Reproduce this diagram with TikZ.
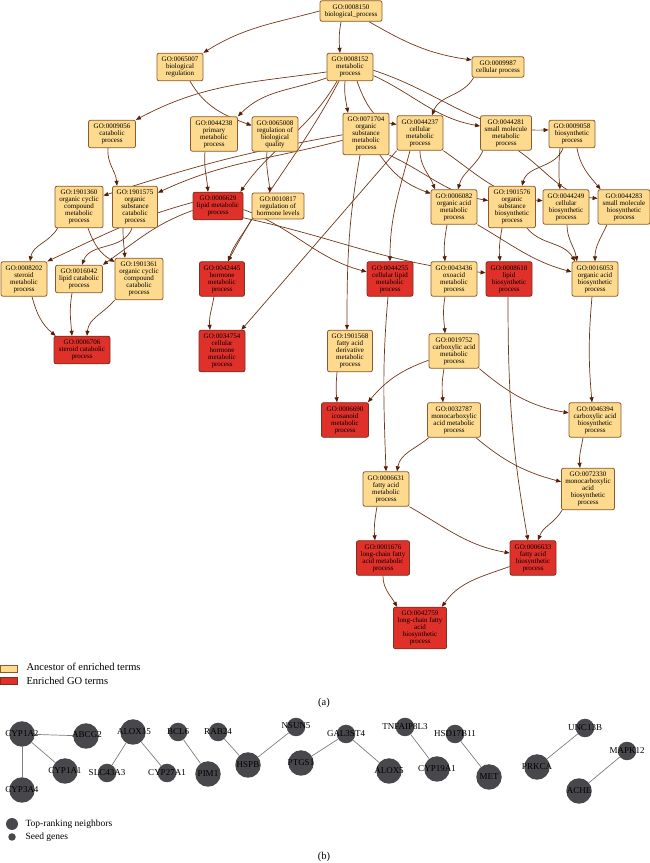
\documentclass[tikz,border=0pt]{standalone}
\usepackage{fontspec}
\setmainfont{Liberation Serif}
\usetikzlibrary{arrows.meta}
\pgfdeclarelayer{bg}
\pgfsetlayers{bg,main}
\definecolor{ancfill}{RGB}{253,218,142}
\definecolor{ancdraw}{RGB}{140,90,45}
\definecolor{enrfill}{RGB}{224,48,42}
\definecolor{enrdraw}{RGB}{120,50,30}
\definecolor{edgecol}{RGB}{112,55,25}
\definecolor{arrowcol}{RGB}{90,30,6}
\definecolor{netfill}{RGB}{72,72,76}
\definecolor{netedge}{RGB}{125,125,125}
\begin{document}
\begin{tikzpicture}[x=1pt,y=1pt,
  goterm/.style={rectangle, rounded corners=2pt, draw=ancdraw, line width=0.8pt, fill=ancfill, align=center, inner xsep=1pt, inner ysep=3.7pt, font=\fontsize{7}{7}\selectfont, minimum width=46pt},
  enr/.style={goterm, fill=enrfill, draw=enrdraw},
  gedge/.style={draw=edgecol, line width=0.7pt, -{Triangle[length=5pt,width=4pt,color=arrowcol]}},
  bignode/.style={circle, fill=netfill, minimum size=25.5pt, inner sep=0pt},
  smallnode/.style={circle, fill=netfill, minimum size=18.5pt, inner sep=0pt},
  nlab/.style={inner sep=0pt, font=\fontsize{9}{10}\selectfont, text=black},
  nedge/.style={draw=netedge, line width=0.7pt},
  legtext/.style={anchor=west, font=\fontsize{10.5}{12}\selectfont},
  legtextb/.style={anchor=west, font=\fontsize{9.5}{11}\selectfont}
]
\useasboundingbox (0,0) rectangle (650,863);

% ---------- GO nodes ----------
\node[goterm, minimum width=62pt] (n8150) at (351,852) {GO:0008150\\biological\_process};
\node[goterm] (n65007) at (180,796) {GO:0065007\\biological\\regulation};
\node[goterm] (n8152) at (350,796) {GO:0008152\\metabolic\\process};
\node[goterm, minimum width=52pt] (n9987) at (498,796) {GO:0009987\\cellular process};
\node[goterm, minimum width=47pt] (n9056) at (112,729) {GO:0009056\\catabolic\\process};
\node[goterm, minimum width=47pt] (n44238) at (214,729) {GO:0044238\\primary\\metabolic\\process};
\node[goterm] (n65008) at (275,729) {GO:0065008\\regulation of\\biological\\quality};
\node[goterm] (n71704) at (366,729) {GO:0071704\\organic\\substance\\metabolic\\process};
\node[goterm] (n44237) at (420,730) {GO:0044237\\cellular\\metabolic\\process};
\node[goterm, minimum width=51pt] (n44281) at (506,730) {GO:0044281\\small molecule\\metabolic\\process};
\node[goterm] (n9058) at (572,729) {GO:0009058\\biosynthetic\\process};

\node[goterm, minimum width=48pt] (n1901360) at (79,656) {GO:1901360\\organic cyclic\\compound\\metabolic\\process};
\node[goterm, minimum width=45pt] (n1901575) at (135,656) {GO:1901575\\organic\\substance\\catabolic\\process};
\node[enr, minimum width=50pt] (n6629) at (218,657) {GO:0006629\\lipid metabolic\\process};
\node[goterm, minimum width=52pt] (n10817) at (278,657) {GO:0010817\\regulation of\\hormone levels};
\node[goterm] (n6082) at (454,656) {GO:0006082\\organic acid\\metabolic\\process};
\node[goterm, minimum width=47pt] (n1901576) at (512,656) {GO:1901576\\organic\\substance\\biosynthetic\\process};
\node[goterm] (n44249) at (566,656) {GO:0044249\\cellular\\biosynthetic\\process};
\node[goterm, minimum width=52pt] (n44283) at (624,656) {GO:0044283\\small molecule\\biosynthetic\\process};

\node[goterm] (n8202) at (24,584) {GO:0008202\\steroid\\metabolic\\process};
\node[goterm, minimum width=47pt] (n16042) at (79,584) {GO:0016042\\lipid catabolic\\process};
\node[goterm, minimum width=48pt] (n1901361) at (139,584) {GO:1901361\\organic cyclic\\compound\\catabolic\\process};
\node[enr, minimum width=45pt] (n42445) at (222,584) {GO:0042445\\hormone\\metabolic\\process};
\node[enr] (n44255) at (390,584) {GO:0044255\\cellular lipid\\metabolic\\process};
\node[goterm] (n43436) at (454,584) {GO:0043436\\oxoacid\\metabolic\\process};
\node[enr] (n8610) at (509,584) {GO:0008610\\lipid\\biosynthetic\\process};
\node[goterm] (n16053) at (595,584) {GO:0016053\\organic acid\\biosynthetic\\process};

\node[enr, minimum width=56pt] (n6706) at (82,513) {GO:0006706\\steroid catabolic\\process};
\node[enr] (n34754) at (222,512) {GO:0034754\\cellular\\hormone\\metabolic\\process};
\node[goterm, minimum width=45pt] (n1901568) at (350,512) {GO:1901568\\fatty acid\\derivative\\metabolic\\process};
\node[goterm, minimum width=50pt] (n19752) at (454,512) {GO:0019752\\carboxylic acid\\metabolic\\process};

\node[enr, minimum width=47pt] (n6690) at (345,443) {GO:0006690\\icosanoid\\metabolic\\process};
\node[goterm, minimum width=53pt] (n32787) at (454,443) {GO:0032787\\monocarboxylic\\acid metabolic\\process};
\node[goterm, minimum width=52pt] (n46394) at (595,443) {GO:0046394\\carboxylic acid\\biosynthetic\\process};

\node[goterm] (n6631) at (386,374) {GO:0006631\\fatty acid\\metabolic\\process};
\node[goterm, minimum width=53pt] (n72330) at (588,374) {GO:0072330\\monocarboxylic\\acid\\biosynthetic\\process};

\node[enr, minimum width=53pt] (n1676) at (383,305) {GO:0001676\\long-chain fatty\\acid metabolic\\process};
\node[enr] (n6633) at (533,305) {GO:0006633\\fatty acid\\biosynthetic\\process};

\node[enr, minimum width=53pt] (n42759) at (420,235) {GO:0042759\\long-chain fatty\\acid\\biosynthetic\\process};

% ---------- GO edges ----------
\begin{pgfonlayer}{bg}
\draw[gedge] (n8150.west) to[out=195,in=32] (n65007.north east);
\draw[gedge] ([xshift=-10pt]n8150.south) to[out=-100,in=95] ([xshift=-10pt]n8152.north);
\draw[gedge] ([xshift=18pt]n8150.south) to[out=-30,in=172] (n9987.165);
\draw[gedge] ([xshift=10pt]n65007.south) to[out=-60,in=160] (n65008.160);
\draw[gedge] (n8152.192) to[out=188,in=28] (n9056.north east);
\draw[gedge] (n8152.205) to[out=200,in=45] (n44238.north east);
\draw[gedge] ([xshift=-5pt]n8152.south) to[out=-95,in=100] ([xshift=-18pt]n71704.north);
\draw[gedge] ([xshift=7pt]n8152.south) to[out=-70,in=170] (n44237.160);
\draw[gedge] (n8152.-20) to[out=-25,in=170] (n44281.165);
\draw[gedge] (n8152.-8) to[out=-18,in=182] (n9058.170);
\draw[gedge] ([xshift=2pt]n9987.south west) to[out=-120,in=70] ([xshift=12pt]n44237.north);

\draw[gedge] ([xshift=-4pt]n9056.south) to[out=-95,in=95] ([xshift=-18pt]n1901575.north);
\draw[gedge] (n71704.182) to[out=190,in=18] (n1901360.25);
\draw[gedge] (n71704.195) to[out=195,in=25] (n1901575.32);
\draw[gedge] ([xshift=-9pt]n44238.south) to[out=-95,in=95] ([xshift=-10pt]n6629.north);
\draw[gedge] ([xshift=-13pt]n8152.south) to[out=-120,in=55] ([xshift=-3pt]n6629.north east);
\draw[gedge] ([xshift=-11pt]n8152.south) to[out=-118,in=62] ([xshift=6pt]n42445.north);
\draw[gedge] ([xshift=-8pt]n65008.south) to[out=-95,in=95] ([xshift=-8pt]n10817.north);
\draw[gedge] (n44237.south) to[out=-90,in=110] ([xshift=-19pt]n6082.north);
\draw[gedge] ([xshift=-23pt]n44281.south) to[out=-115,in=75] ([xshift=4pt]n6082.north);
\draw[gedge] ([xshift=14pt]n71704.south) to[out=-55,in=160] (n6082.150);
\draw[gedge] (n71704.south east) to[out=-25,in=170] (n1901576.165);
\draw[gedge] ([xshift=-9pt]n9058.south) to[out=-110,in=75] ([xshift=10pt]n1901576.north);
\draw[gedge] ([xshift=-12pt]n9058.south) to[out=-95,in=95] ([xshift=-6pt]n44249.north);
\draw[gedge] ([xshift=5pt]n9058.south) to[out=-80,in=130] ([xshift=3pt]n44283.north west);
\draw[gedge] (n44237.south east) to[out=-35,in=175] (n44249.165);
\draw[gedge] (n44281.-55) to[out=-35,in=175] (n44283.162);

\draw[gedge] ([xshift=3pt]n1901360.south west) to[out=-120,in=80] ([xshift=6pt]n8202.north);
\draw[gedge] (n6629.172) to[out=195,in=25] (n8202.north east);
\draw[gedge] (n6629.190) to[out=200,in=35] (n16042.north east);
\draw[gedge] ([xshift=-3pt]n1901575.south) to[out=-110,in=70] ([xshift=3pt]n16042.north);
\draw[gedge] ([xshift=9pt]n1901360.south) to[out=-70,in=150] (n1901361.145);
\draw[gedge] ([xshift=-12pt]n1901575.south) to[out=-90,in=95] ([xshift=-14pt]n1901361.north);
\draw[gedge] (n10817.south west) to[out=-120,in=70] ([xshift=6pt]n42445.north);
\draw[gedge] (n6629.-8) to[out=-20,in=165] (n44255.163);
\draw[gedge] (n6629.-25) to[out=-12,in=175] (n8610.165);
\draw[gedge] ([xshift=-10pt]n44237.south) to[out=-105,in=90] (n44255.north);
\draw[gedge] ([xshift=-7pt]n6082.south) to[out=-100,in=95] ([xshift=-9pt]n43436.north);
\draw[gedge] ([xshift=-10pt]n1901576.south) to[out=-100,in=95] ([xshift=-9pt]n8610.north);
\draw[gedge] (n6082.south east) to[out=-30,in=165] (n16053.163);
\draw[gedge] ([xshift=15pt]n1901576.south) to[out=-50,in=120] ([xshift=-20pt]n16053.north);
\draw[gedge] ([xshift=1pt]n44249.south) to[out=-90,in=100] ([xshift=-18pt]n16053.north);
\draw[gedge] ([xshift=-17pt]n44283.south) to[out=-115,in=90] (n16053.north);
\draw[gedge] ([xshift=-6pt]n71704.south) to[out=-100,in=90] ([xshift=-3pt]n1901568.north);
\draw[gedge] (n44237.south west) -- ([xshift=-4pt]n34754.north east);
\draw[gedge] ([xshift=-8pt]n42445.south) to[out=-100,in=95] ([xshift=-12pt]n34754.north);
\draw[gedge] ([xshift=8pt]n8202.south) to[out=-75,in=140] ([xshift=2pt]n6706.north west);
\draw[gedge] ([xshift=-7pt]n16042.south) to[out=-100,in=95] ([xshift=-10pt]n6706.north);
\draw[gedge] (n1901361.south west) to[out=-130,in=85] ([xshift=5pt]n6706.north);
\draw[gedge] ([xshift=-9pt]n43436.south) to[out=-100,in=95] ([xshift=-9pt]n19752.north);
\draw[gedge] ([xshift=-2pt]n44255.south) to[out=-95,in=92] (n6631.north);
\draw[gedge] ([xshift=-1pt]n8610.south) to[out=-90,in=100] ([xshift=-5pt]n6633.north);
\draw[gedge] ([xshift=-3pt]n16053.south) to[out=-95,in=95] ([xshift=-3pt]n46394.north);
\draw[gedge] ([xshift=-13pt]n1901568.south) to[out=-95,in=95] ([xshift=-8pt]n6690.north);
\draw[gedge] (n19752.200) to[out=200,in=50] ([xshift=-1pt]n6690.north east);
\draw[gedge] ([xshift=-10pt]n19752.south) to[out=-100,in=95] ([xshift=-11pt]n32787.north);
\draw[gedge] (n19752.south east) to[out=-40,in=170] (n46394.165);
\draw[gedge] (n32787.215) to[out=-140,in=80] ([xshift=11pt]n6631.north);
\draw[gedge] ([xshift=-5pt]n32787.south east) to[out=-40,in=165] (n72330.165);
\draw[gedge] ([xshift=-12pt]n46394.south) to[out=-100,in=95] ([xshift=-8pt]n72330.north);
\draw[gedge] ([xshift=-9pt]n6631.south) to[out=-100,in=95] ([xshift=-8pt]n1676.north);
\draw[gedge] (n6631.south east) to[out=-30,in=170] (n6633.168);
\draw[gedge] ([xshift=1pt]n72330.south west) to[out=-120,in=70] ([xshift=5pt]n6633.north);
\draw[gedge] (n1676.south) to[out=-90,in=120] ([xshift=4pt]n42759.north west);
\draw[gedge] (n6633.200) to[out=200,in=55] ([xshift=-5pt]n42759.north east);
\end{pgfonlayer}

% ---------- legend (a) ----------
\node[rectangle, fill=ancfill, draw=ancdraw, line width=0.8pt, minimum width=17pt, minimum height=7pt, inner sep=0pt] (legA) at (9,194.5) {};
\node[rectangle, fill=enrfill, draw=enrdraw, line width=0.8pt, minimum width=17pt, minimum height=7pt, inner sep=0pt] (legE) at (9,182) {};
\node[legtext] (legAt) at (23,196) {Ancestor of enriched terms};
\node[legtext] (legEt) at (23,182) {Enriched GO terms};
\node[font=\fontsize{10.5}{12}\selectfont] (capa) at (324,160) {(a)};

% ---------- network (b) ----------
\node[bignode] (cyp1a2) at (22,129) {};
\node[bignode] (abcg2) at (86,127) {};
\node[bignode] (cyp1a1) at (65,92) {};
\node[bignode] (cyp3a4) at (22,73) {};
\node[bignode] (alox15) at (133,131) {};
\node[smallnode] (slc43a3) at (107,90) {};
\node[smallnode] (cyp27a1) at (167,90) {};
\node[smallnode] (bcl6) at (178,131) {};
\node[bignode] (pim1) at (208,89) {};
\node[smallnode] (rab24) at (218,131) {};
\node[bignode] (hspb) at (248,98) {};
\node[smallnode] (nsun5) at (296,136) {};
\node[bignode] (ptgs1) at (301,100) {};
\node[smallnode] (gal3st4) at (346,129) {};
\node[bignode] (alox5) at (389,92) {};
\node[smallnode] (tnfaip8l3) at (405,136) {};
\node[bignode] (cyp19a1) at (437,94) {};
\node[smallnode] (hsd17b11) at (455,129) {};
\node[bignode] (met) at (489,86) {};
\node[smallnode] (unc13b) at (585,135) {};
\node[bignode] (prkca) at (537,96) {};
\node[smallnode] (mapk12) at (627,112) {};
\node[bignode] (ache) at (579,72) {};

\begin{pgfonlayer}{bg}
\draw[nedge] (cyp1a2) -- (abcg2);
\draw[nedge] (cyp1a2) -- (cyp1a1);
\draw[nedge] (cyp1a2) -- (cyp3a4);
\draw[nedge] (alox15) -- (slc43a3);
\draw[nedge] (alox15) -- (cyp27a1);
\draw[nedge] (bcl6) -- (pim1);
\draw[nedge] (rab24) -- (hspb);
\draw[nedge] (hspb) -- (nsun5);
\draw[nedge] (ptgs1) -- (gal3st4);
\draw[nedge] (gal3st4) -- (alox5);
\draw[nedge] (tnfaip8l3) -- (cyp19a1);
\draw[nedge] (hsd17b11) -- (met);
\draw[nedge] (prkca) -- (unc13b);
\draw[nedge] (mapk12) -- (ache);
\end{pgfonlayer}

\node[nlab] (t-cyp1a2) at (cyp1a2) {CYP1A2};
\node[nlab] (t-abcg2) at (87,128) {ABCG2};
\node[nlab] (t-cyp1a1) at (cyp1a1) {CYP1A1};
\node[nlab] (t-cyp3a4) at (cyp3a4) {CYP3A4};
\node[nlab] (t-alox15) at (134,131) {ALOX15};
\node[nlab] (t-slc43a3) at (slc43a3) {SLC43A3};
\node[nlab] (t-cyp27a1) at (cyp27a1) {CYP27A1};
\node[nlab] (t-bcl6) at (bcl6) {BCL6};
\node[nlab] (t-pim1) at (pim1) {PIM1};
\node[nlab] (t-rab24) at (rab24) {RAB24};
\node[nlab] (t-hspb) at (hspb) {HSPB};
\node[nlab] (t-nsun5) at (296,137) {NSUN5};
\node[nlab] (t-ptgs1) at (ptgs1) {PTGS1};
\node[nlab] (t-gal3st4) at (gal3st4) {GAL3ST4};
\node[nlab] (t-alox5) at (alox5) {ALOX5};
\node[nlab] (t-tnfaip8l3) at (tnfaip8l3) {TNFAIP8L3};
\node[nlab] (t-cyp19a1) at (cyp19a1) {CYP19A1};
\node[nlab] (t-hsd17b11) at (hsd17b11) {HSD17B11};
\node[nlab] (t-met) at (met) {MET};
\node[nlab] (t-unc13b) at (unc13b) {UNC13B};
\node[nlab] (t-prkca) at (prkca) {PRKCA};
\node[nlab] (t-mapk12) at (mapk12) {MAPK12};
\node[nlab] (t-ache) at (ache) {ACHE};

\node[circle, fill=netfill, minimum size=12pt, inner sep=0pt] (legbig) at (12,39) {};
\node[circle, fill=netfill, minimum size=7.5pt, inner sep=0pt] (legsmall) at (12,26) {};
\node[legtextb] (legbigt) at (22,39) {Top-ranking neighbors};
\node[legtextb] (legsmallt) at (22,26) {Seed genes};
\node[font=\fontsize{10.5}{12}\selectfont] (capb) at (324,6) {(b)};
\end{tikzpicture}
\end{document}
